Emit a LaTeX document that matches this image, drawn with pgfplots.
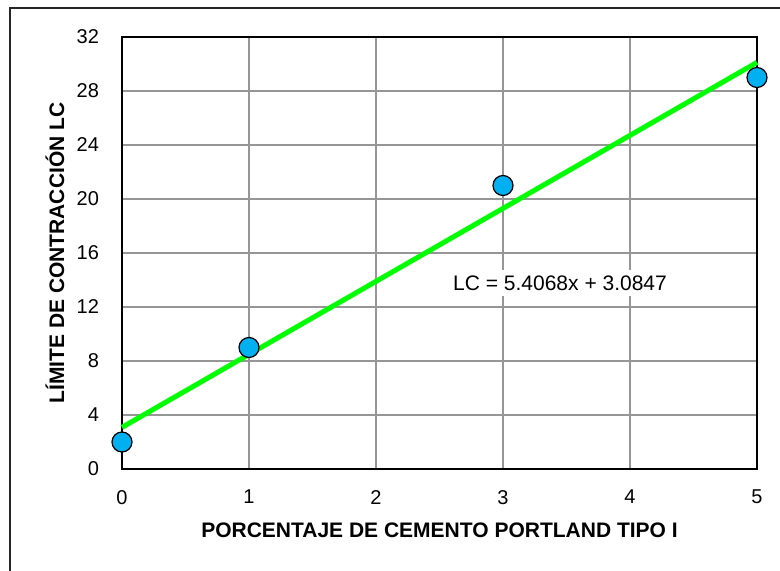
\documentclass[border=0pt]{standalone}
\usepackage{pgfplots}
\pgfplotsset{compat=1.18}
\usepackage{fontspec}
\setmainfont{Liberation Sans}
\definecolor{ptblue}{RGB}{0,176,240}
\definecolor{trend}{RGB}{0,255,0}
\definecolor{gridgray}{RGB}{150,150,150}
\begin{document}
\begin{tikzpicture}[x=1pt,y=1pt]
\useasboundingbox (0,0) rectangle (390,285.5);
\draw[line width=0.8pt, black!85] (5,0) -- (5,281.5) -- (390,281.5);
\begin{axis}[
  at={(61pt,51pt)}, anchor=origin,
  width=317.5pt, height=216pt, scale only axis,
  xmin=0, xmax=5, ymin=0, ymax=32,
  xtick={0,1,2,3,4,5}, ytick={0,4,8,12,16,20,24,28,32},
  grid=major, major grid style={gridgray, line width=0.75pt},
  major tick length=0pt,
  axis line style={black, line width=0.6pt},
  tick label style={font=\fontsize{10}{12}\selectfont},
  /pgf/number format/assume math mode=true,
  yticklabel style={xshift=-8pt},
  xticklabel style={yshift=-7pt},
  clip=false,
]
\addplot[trend, line width=2.5pt] coordinates {(0,3.0847) (5,30.1187)};
\addplot[only marks, mark=*, mark size=5pt, mark options={fill=ptblue, draw=black, line width=0.6pt}]
  coordinates {(0,2) (1,9) (3,21) (5,29)};
\node[fill=white, inner sep=3pt, font=\fontsize{10.5}{12}\selectfont] at (axis cs:3.449,13.78) {LC = 5.4068x + 3.0847};
\end{axis}
\node[font=\fontsize{10.5}{12}\selectfont\bfseries, anchor=center] at (219.75,20.5) {PORCENTAJE DE CEMENTO PORTLAND TIPO I};
\node[font=\fontsize{10.5}{12}\selectfont\bfseries, anchor=center, rotate=90] at (27.5,159) {LÍMITE DE CONTRACCIÓN LC};
\end{tikzpicture}
\end{document}
